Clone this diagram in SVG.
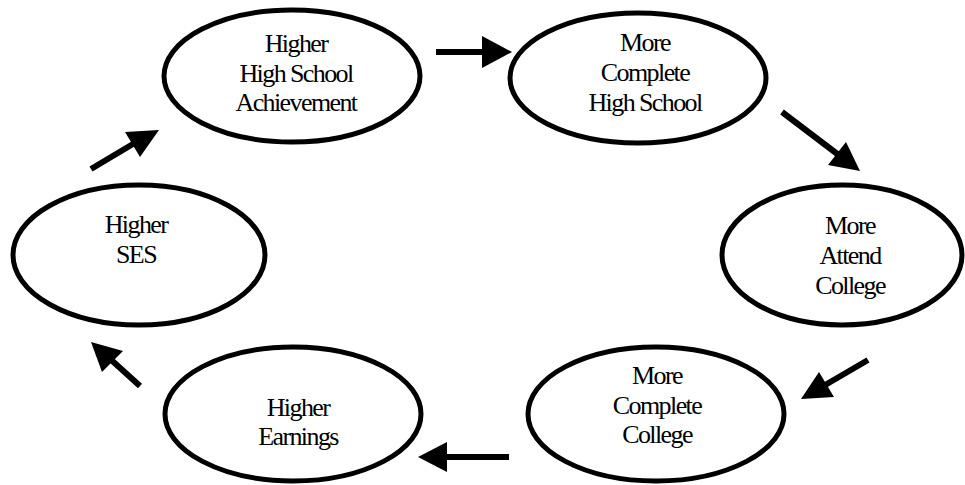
<svg xmlns="http://www.w3.org/2000/svg" width="965" height="485" viewBox="0 0 965 485">
<style>
.n{fill:#fff;stroke:#000;stroke-width:5}
.t{font-family:'Liberation Serif','DejaVu Serif',serif;font-size:26px;letter-spacing:-1.6px;text-anchor:middle;fill:#000}
.c{stroke:#000;stroke-width:6;fill:none}
.h{fill:#000}
</style>
<rect width="965" height="485" fill="#fff"/>
<g id="n1"><ellipse class="n" cx="292" cy="76" rx="128" ry="66"/>
<text class="t" x="296" y="52">Higher</text><text class="t" x="296" y="82">High School</text><text class="t" x="296" y="111">Achievement</text></g>
<g id="n2"><ellipse class="n" cx="638" cy="78" rx="128" ry="65"/>
<text class="t" x="645" y="51">More</text><text class="t" x="645" y="81">Complete</text><text class="t" x="645" y="111">High School</text></g>
<g id="n3"><ellipse class="n" cx="842" cy="255" rx="120" ry="70"/>
<text class="t" x="850" y="234">More</text><text class="t" x="850" y="264">Attend</text><text class="t" x="850" y="294">College</text></g>
<g id="n4"><ellipse class="n" cx="656" cy="414" rx="128" ry="67"/>
<text class="t" x="657" y="384">More</text><text class="t" x="657" y="414">Complete</text><text class="t" x="657" y="443">College</text></g>
<g id="n5"><ellipse class="n" cx="293" cy="414" rx="128" ry="67"/>
<text class="t" x="298" y="416">Higher</text><text class="t" x="298" y="445">Earnings</text></g>
<g id="n6"><ellipse class="n" cx="139" cy="255" rx="126" ry="70"/>
<text class="t" x="136" y="233">Higher</text><text class="t" x="136" y="263">SES</text></g>
<g id="connectors">
<line class="c" x1="436" y1="52" x2="484" y2="52"/><polygon class="h" points="512,52 482,36 482,68"/>
<line class="c" x1="782" y1="112" x2="840" y2="156"/><polygon class="h" points="860,171 828,165 846,142"/>
<line class="c" x1="868" y1="360" x2="820" y2="388"/><polygon class="h" points="801,399 819,372 834,397"/>
<line class="c" x1="509" y1="457" x2="445" y2="457"/><polygon class="h" points="418,457 447,442 447,472"/>
<line class="c" x1="140" y1="386" x2="108" y2="357"/><polygon class="h" points="91,342 102,372 123,351"/>
<line class="c" x1="91" y1="169" x2="138" y2="141"/><polygon class="h" points="159,130 125,132 140,157"/>
</g>
</svg>
